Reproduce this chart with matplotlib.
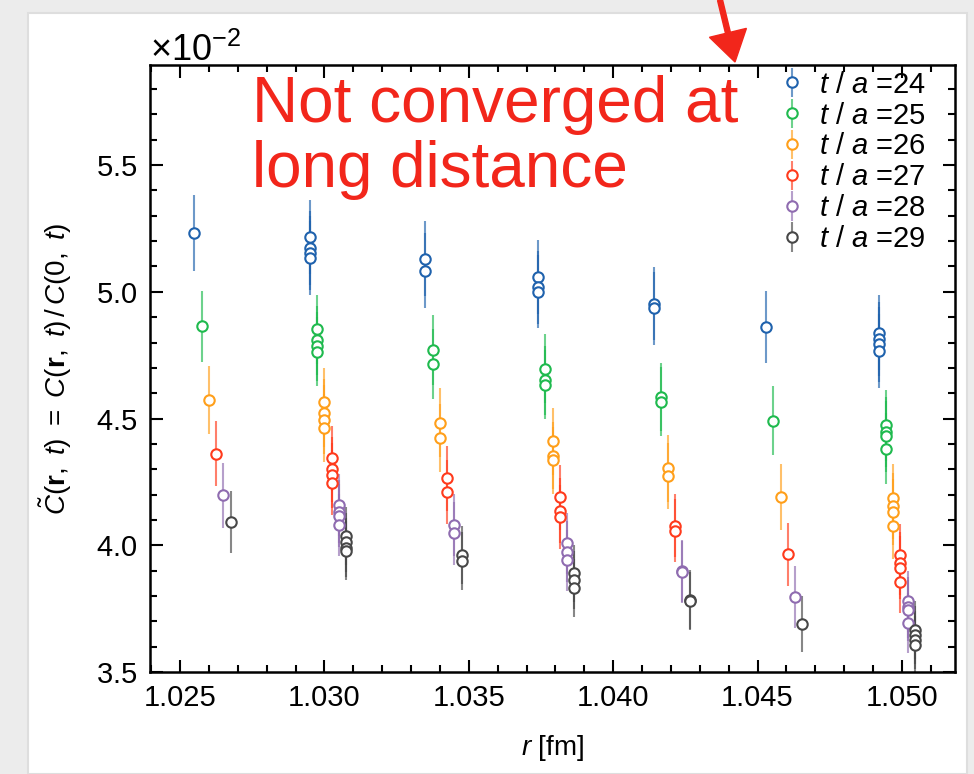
import numpy as np
import matplotlib
matplotlib.use("Agg")
import matplotlib.pyplot as plt
from matplotlib.ticker import MultipleLocator, FormatStrFormatter
from matplotlib.patches import Rectangle, FancyArrow

plt.rcParams['font.family'] = ['Liberation Sans', 'DejaVu Sans']
plt.rcParams['mathtext.fontset'] = 'custom'
plt.rcParams['mathtext.rm'] = 'Liberation Sans'
plt.rcParams['mathtext.it'] = 'Liberation Sans:italic'
plt.rcParams['mathtext.bf'] = 'Liberation Sans:bold'

# distances r [fm] and number of points at each r
r_values = [1.0255, 1.0295, 1.0335, 1.0374, 1.0414, 1.0453, 1.0492]
t_values = [24, 25, 26, 27, 28, 29]

# C~(r,t) in units of 1e-2, one list per r
c24 = [[5.232], [5.215, 5.172, 5.154, 5.133], [5.130, 5.084], [5.058, 5.018, 5.001],
       [4.953, 4.936], [4.861], [4.839, 4.814, 4.793, 4.767]]
c25 = [[4.865], [4.852, 4.808, 4.785, 4.763], [4.772, 4.717], [4.697, 4.651, 4.634],
       [4.585, 4.566], [4.492], [4.473, 4.447, 4.430, 4.381]]
c26 = [[4.575], [4.566, 4.522, 4.496, 4.463], [4.484, 4.424], [4.411, 4.353, 4.336],
       [4.303, 4.273], [4.192], [4.188, 4.154, 4.131, 4.076]]
c27 = [[4.361], [4.343, 4.299, 4.277, 4.247], [4.264, 4.209], [4.189, 4.137, 4.111],
       [4.078, 4.058], [3.965], [3.960, 3.929, 3.912, 3.857]]
c28 = [[4.198], [4.159, 4.133, 4.117, 4.080], [4.080, 4.047], [4.008, 3.975, 3.940],
       [3.899, 3.894], [3.796], [3.779, 3.756, 3.744, 3.693]]
c29 = [[4.091], [4.037, 4.011, 3.991, 3.978], [3.962, 3.938], [3.890, 3.863, 3.831],
       [3.785, 3.780], [3.690], [3.665, 3.645, 3.625, 3.605]]

# errors (units of 1e-2), one per r
e24 = [0.150, 0.146, 0.148, 0.145, 0.144, 0.143, 0.147]
e25 = [0.140, 0.136, 0.138, 0.137, 0.136, 0.135, 0.140]
e26 = [0.134, 0.135, 0.135, 0.132, 0.131, 0.130, 0.131]
e27 = [0.129, 0.128, 0.127, 0.127, 0.125, 0.124, 0.125]
e28 = [0.128, 0.123, 0.124, 0.120, 0.122, 0.121, 0.120]
e29 = [0.123, 0.116, 0.116, 0.113, 0.116, 0.110, 0.115]

colors = ['#1f62ad', '#1fba4e', '#ff9f1a', '#ff3a1c', '#8f6cb0', '#474747']
all_c = [c24, c25, c26, c27, c28, c29]
all_e = [e24, e25, e26, e27, e28, e29]

fig = plt.figure(figsize=(9.74, 7.74), dpi=100)
fig.patch.set_facecolor('#ececec')
# white page like the screenshot
page = Rectangle((28 / 974, 0), (967 - 28) / 974, (774 - 13) / 774,
                 transform=fig.transFigure, facecolor='white',
                 edgecolor='#dedede', lw=1.5, zorder=-5)
fig.patches.append(page)

ax = fig.add_axes([150 / 974, 1 - 672 / 774, 805 / 974, 607 / 774])
ax.set_facecolor('white')

for i, t in enumerate(t_values):
    xs, ys, es = [], [], []
    for j, r in enumerate(r_values):
        for v in all_c[i][j]:
            xs.append(r + 0.00025 * i)  # small shift so the t values do not overlap
            ys.append(v * 1e-2)
            es.append(all_e[i][j] * 1e-2)
    ecol = matplotlib.colors.to_rgba(colors[i], 0.65)
    ax.errorbar(xs, ys, yerr=es, fmt='o', color=colors[i], ecolor=ecol,
                mfc='white', mec=colors[i], mew=1.5, ms=7.5, elinewidth=1.5,
                capsize=0, label=r'$t\ /\ a$ =%d' % t)

ax.set_xlim(1.02396, 1.05184)
ax.set_ylim(0.035, 0.05895)
ax.xaxis.set_major_locator(MultipleLocator(0.005))
ax.xaxis.set_minor_locator(MultipleLocator(0.001))
ax.xaxis.set_major_formatter(FormatStrFormatter('%.3f'))
ax.yaxis.set_major_locator(MultipleLocator(0.005))
ax.yaxis.set_minor_locator(MultipleLocator(0.001))
ax.ticklabel_format(axis='y', style='sci', scilimits=(-2, -2), useMathText=True)

ax.tick_params(which='both', direction='in', top=True, right=True, labelsize=21, width=1.5)
ax.tick_params(which='major', length=9, pad=9)
ax.tick_params(which='minor', length=5)
ax.yaxis.get_offset_text().set_fontsize(26)
for s in ax.spines.values():
    s.set_linewidth(1.8)

ax.set_xlabel(r'$r$ [fm]', fontsize=20, labelpad=15)
ax.set_ylabel(r'$\tilde{C}(\mathbf{r},\ t)\ =\ C(\mathbf{r},\ t)\,/\,C(0,\ t)$', fontsize=20, labelpad=16)

leg = ax.legend(loc='upper right', bbox_to_anchor=(0.979, 1.01), frameon=False, fontsize=21,
                handletextpad=0.45, labelspacing=0.1, handlelength=1.0, borderaxespad=0.0)

ax.text(0.127, 0.983, 'Not converged at\nlong distance', transform=ax.transAxes,
        fontsize=46, color='#f2261b', ha='left', va='top', linespacing=1.1)

# red hand-drawn style arrow at the top
fig.patches.append(FancyArrow(7.20, 7.74, 0.15, -0.62, width=0.05, head_width=0.38,
                              head_length=0.30, length_includes_head=True,
                              color='#f2261b', transform=fig.dpi_scale_trans, zorder=5))

fig.savefig('out.png', dpi=100, facecolor=fig.get_facecolor())
